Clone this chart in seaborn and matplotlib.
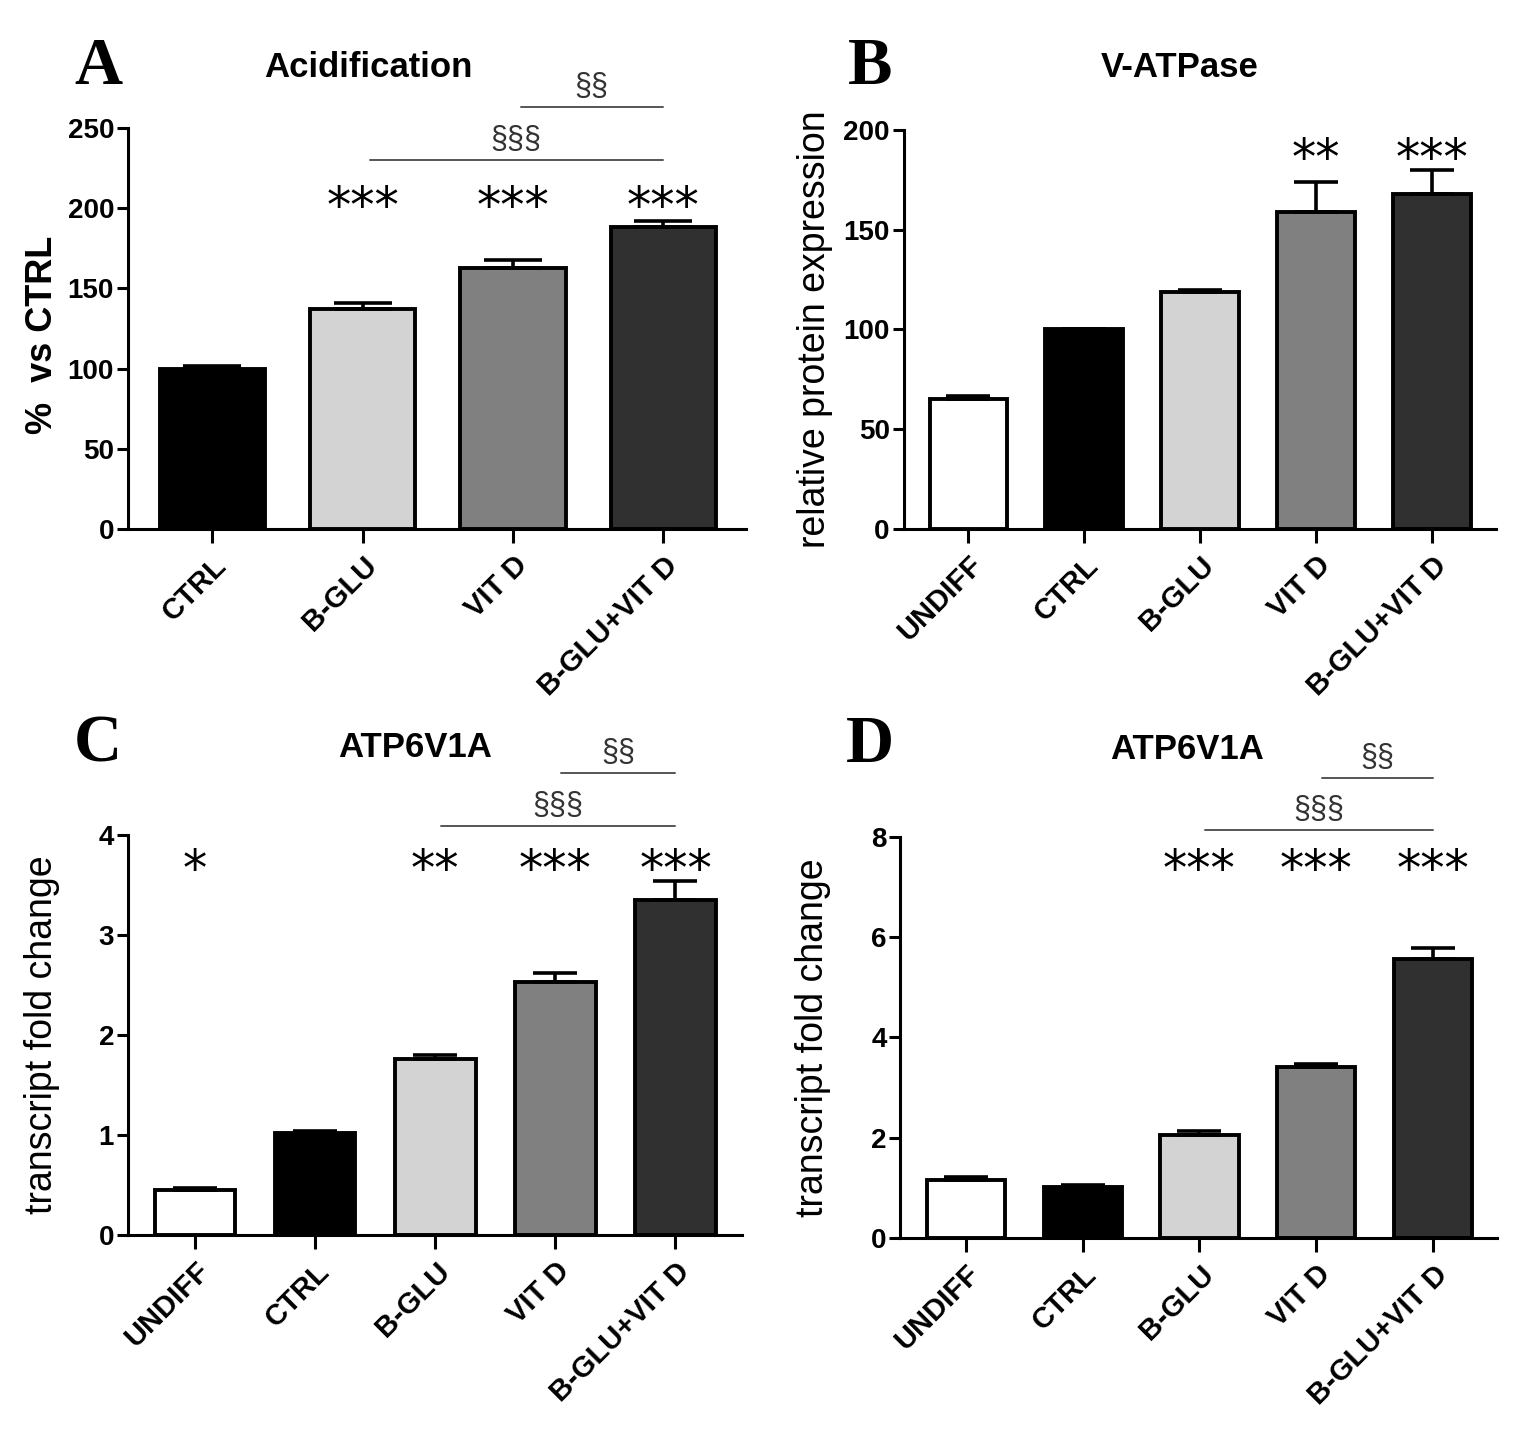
import matplotlib
matplotlib.use("Agg")
import matplotlib.pyplot as plt
import seaborn as sns

# data
cats_a = ["CTRL", "B-GLU", "VIT D", "B-GLU+VIT D"]
acid_mean = [100, 137, 163, 188]
acid_sem = [1.5, 4, 5, 4]
stars_a = ["", "***", "***", "***"]

cats_5 = ["UNDIFF", "CTRL", "B-GLU", "VIT D", "B-GLU+VIT D"]
vatp_mean = [65, 100, 119, 159, 168]
vatp_sem = [1.5, 0, 1, 15, 12]
stars_b = ["", "", "", "**", "***"]

atp_c_mean = [0.45, 1.02, 1.76, 2.53, 3.35]
atp_c_sem = [0.02, 0.02, 0.04, 0.09, 0.19]
stars_c = ["*", "", "**", "***", "***"]

atp_d_mean = [1.16, 1.01, 2.06, 3.42, 5.56]
atp_d_sem = [0.06, 0.05, 0.07, 0.06, 0.22]
stars_d = ["", "", "***", "***", "***"]

# pairwise comparisons (group i, group j, label)
comp_a = [(1, 3, "§§§"), (2, 3, "§§")]
comp_c = [(2, 4, "§§§"), (3, 4, "§§")]
comp_d = [(2, 4, "§§§"), (3, 4, "§§")]

colors_a = ["#000000", "#d3d3d3", "#808080", "#303030"]
colors_5 = ["#ffffff", "#000000", "#d3d3d3", "#808080", "#303030"]

sns.set_theme(style="ticks")
plt.rcParams["font.family"] = ["Liberation Sans", "DejaVu Sans"]
plt.rcParams.update({"text.color": "black", "axes.edgecolor": "black",
                     "xtick.color": "black", "ytick.color": "black",
                     "axes.labelcolor": "black"})

fig = plt.figure(figsize=(15.34, 14.45), dpi=100)


def panel(pos, cats, means, sems, colors, ylim, step, stars, comps, star_y,
          comp_y, capsize, width):
    ax = fig.add_axes(pos)
    sns.barplot(x=cats, y=means, hue=cats, palette=dict(zip(cats, colors)),
                width=width, edgecolor="black", linewidth=2.8, legend=False,
                ax=ax)
    xs = list(range(len(cats)))
    ax.errorbar(xs, means, yerr=[[0] * len(cats), sems], fmt="none",
                ecolor="black", elinewidth=2.6, capsize=capsize, capthick=2.6,
                zorder=1)
    ax.set_xlim(-0.56, len(cats) - 0.45)
    ax.set_ylim(0, ylim)
    ax.set_yticks(range(0, ylim + 1, step))
    sns.despine(ax=ax)
    for s in ["left", "bottom"]:
        ax.spines[s].set_linewidth(2.2)
    ax.tick_params(axis="y", length=8, width=2.2, labelsize=20, pad=2)
    ax.tick_params(axis="x", length=10, width=2.2, labelsize=21, pad=6)
    for lab in ax.get_yticklabels():
        lab.set_fontweight("bold")
    ax.set_xticks(xs)
    ax.set_xticklabels(cats, rotation=45, ha="right", rotation_mode="anchor",
                       fontweight="bold")
    ax.set_xlabel("")
    ax.set_ylabel("")
    trans = ax.get_xaxis_transform()
    for x, s in zip(xs, stars):
        if s:
            ax.text(x, star_y, s, transform=trans, ha="center", va="center",
                    fontsize=35, family="DejaVu Sans", clip_on=False)
    for (i, j, lab), y in zip(comps, comp_y):
        ax.plot([i + 0.05, j], [y, y], transform=trans, color="#555555",
                lw=1.4, clip_on=False)
        ax.text((i + j) / 2 + 0.02, y + 0.012, lab, transform=trans,
                ha="center", va="bottom", fontsize=22, color="#333333",
                clip_on=False)
    return ax


ax_a = panel([0.0834, 0.634, 0.403, 0.2774], cats_a, acid_mean, acid_sem,
             colors_a, 250, 50, stars_a, comp_a, 0.80, [0.92, 1.052], 21, 0.7)
ax_b = panel([0.589, 0.634, 0.386, 0.276], cats_5, vatp_mean, vatp_sem,
             colors_5, 200, 50, stars_b, [], 0.925, [], 16, 0.67)
ax_c = panel([0.0834, 0.1453, 0.4, 0.2768], cats_5, atp_c_mean, atp_c_sem,
             colors_5, 4, 1, stars_c, comp_c, 0.91, [1.0225, 1.155], 16, 0.67)
ax_d = panel([0.587, 0.1433, 0.389, 0.2775], cats_5, atp_d_mean, atp_d_sem,
             colors_5, 8, 2, stars_d, comp_d, 0.915, [1.017, 1.147], 16, 0.67)

# axis labels
ax_a.text(-0.139, 0.484, "%  vs CTRL", transform=ax_a.transAxes, rotation=90,
          ha="center", va="center", fontsize=26, fontweight="bold")
ax_b.text(-0.149, 0.5, "relative protein expression", transform=ax_b.transAxes,
          rotation=90, ha="center", va="center", fontsize=27)
ax_c.text(-0.14, 0.5, "transcript fold change", transform=ax_c.transAxes,
          rotation=90, ha="center", va="center", fontsize=27)
ax_d.text(-0.147, 0.5, "transcript fold change", transform=ax_d.transAxes,
          rotation=90, ha="center", va="center", fontsize=27)

# titles and panel letters
titles = [("Acidification", 0.240, 0.9536), ("V-ATPase", 0.769, 0.9536),
          ("ATP6V1A", 0.2705, 0.4824), ("ATP6V1A", 0.774, 0.481)]
for t, x, y in titles:
    fig.text(x, y, t, ha="center", va="center", fontsize=25, fontweight="bold")

letters = [("A", 0.0639, 0.953), ("B", 0.567, 0.953), ("C", 0.0639, 0.4844),
           ("D", 0.567, 0.4844)]
for t, x, y in letters:
    fig.text(x, y, t, ha="center", va="center", fontsize=48,
             fontweight="bold", family="Liberation Serif")

fig.savefig("out.png", dpi=100, facecolor="white")
